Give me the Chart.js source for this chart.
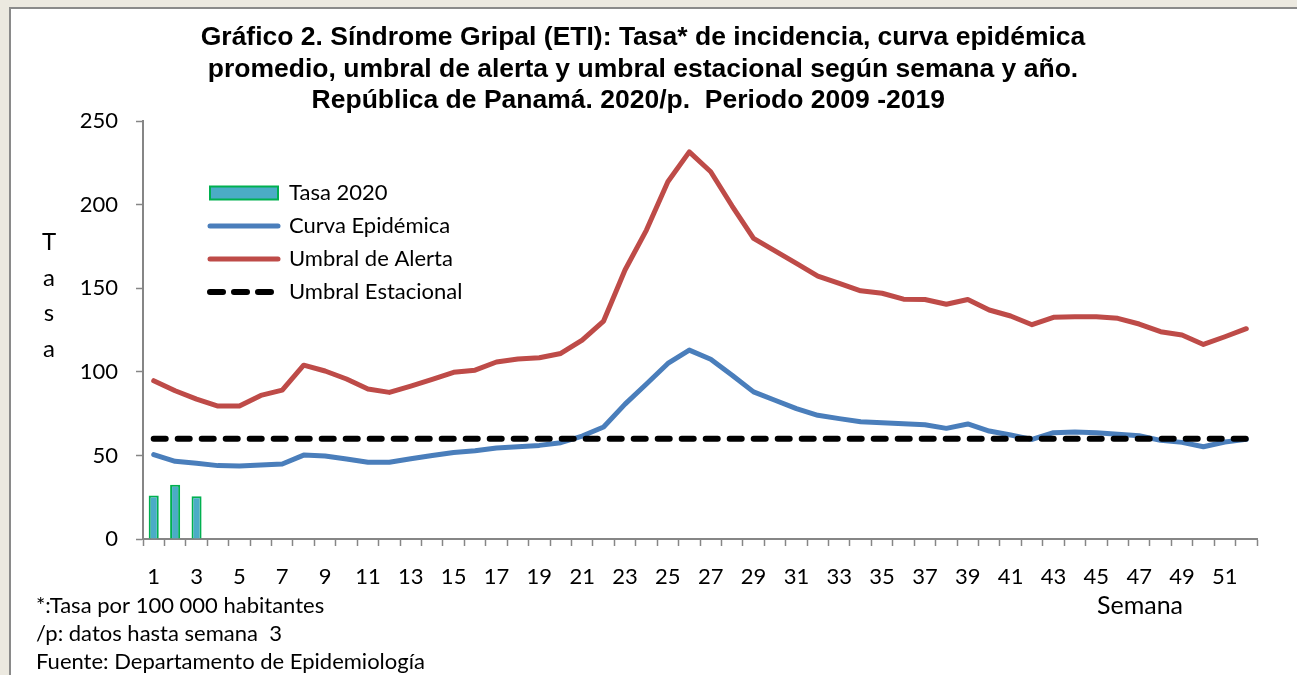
<!DOCTYPE html>
<html lang="es">
<head>
<meta charset="utf-8">
<title>Síndrome Gripal (ETI) - Panamá 2020</title>
<script src="https://cdn.jsdelivr.net/npm/chart.js@4.4.1/dist/chart.umd.min.js"></script>
<style>
    html, body { margin: 0; padding: 0; background: #ece9e0; overflow: hidden; }
    #marco {
        position: absolute; left: 9px; top: 7px; width: 1300px; height: 700px;
        background: #ffffff; border-left: 2px solid #8a8a8a; border-top: 2px solid #8a8a8a;
    }
    #grafica { position: absolute; left: 0; top: 0; }
</style>
</head>
<body>
<div id="marco"></div>
<canvas id="grafica" width="1297" height="675"></canvas>
<script>
// Datos del gráfico
const semanas = ['1','2','3','4','5','6','7','8','9','10','11','12','13','14','15','16','17','18','19','20',
    '21','22','23','24','25','26','27','28','29','30','31','32','33','34','35','36','37','38','39','40',
    '41','42','43','44','45','46','47','48','49','50','51','52'];

const tasa2020 = [26, 32.5, 25.5];

const curvaEpidemica = [50.5, 46.5, 45.3, 43.9, 43.6, 44.3, 44.9, 50.2, 49.6, 47.8, 45.9, 45.9, 48, 50,
    51.8, 52.8, 54.4, 55.2, 56, 57.6, 61.6, 67, 80.7, 92.7, 105, 113, 107.5, 98, 88, 83, 78, 74, 72,
    70.2, 69.6, 69, 68.4, 66.2, 68.8, 64.6, 62.2, 59.6, 63.6, 64, 63.6, 62.6, 61.8, 59, 57.8, 55.2, 58, 59.6];

const umbralAlerta = [94.7, 88.7, 83.7, 79.5, 79.5, 85.9, 89.1, 104, 100.5, 95.7, 89.7, 87.7, 91.5, 95.5,
    99.7, 101, 105.9, 107.7, 108.4, 111, 119, 130.4, 160.9, 184.8, 213.7, 231.6, 219.7, 199.2, 179.8,
    172.4, 164.9, 157.3, 152.9, 148.5, 147, 143.5, 143.3, 140.4, 143.3, 137, 133.4, 128.2, 132.6, 133,
    133, 132, 128.6, 124, 122, 116.4, 121, 125.8];

const umbralEstacional = [60, 60, 60, 60, 60, 60, 60, 60, 60, 60, 60, 60, 60, 60, 60, 60, 60, 60, 60, 60,
    60, 60, 60, 60, 60, 60, 60, 60, 60, 60, 60, 60, 60, 60, 60, 60, 60, 60, 60, 60,
    60, 60, 60, 60, 60, 60, 60, 60, 60, 60, 60, 60];

const ticksY = [0, 50, 100, 150, 200, 250];

const nombresSeries = ['Tasa 2020', 'Curva Epidémica', 'Umbral de Alerta', 'Umbral Estacional'];

const titulo = [
    'Gráfico 2. Síndrome Gripal (ETI): Tasa* de incidencia, curva epidémica',
    'promedio, umbral de alerta y umbral estacional según semana y año.',
    'República de Panamá. 2020/p.  Periodo 2009 -2019    '
];
const tituloEjeY = ['T', 'a', 's', 'a'];
const notas = [
    '*:Tasa por 100 000 habitantes',
    '/p: datos hasta semana  3',
    'Fuente: Departamento de Epidemiología'
];

const FUENTE = 'Lato, "Open Sans", sans-serif';
const GRIS = '#868686';

// Leyenda dentro del área del gráfico + textos sueltos (título eje Y, "Semana", notas)
const textosExtra = {
    id: 'textosExtra',
    afterLayout(chart) {
        const lg = chart.legend;
        const w = lg.width, h = lg.height;
        lg.left = 199; lg.top = 171;
        lg.right = lg.left + w; lg.bottom = lg.top + h;
    },
    afterDraw(chart) {
        const ctx = chart.ctx;
        ctx.save();
        ctx.fillStyle = '#000';
        ctx.textBaseline = 'alphabetic';
        ctx.font = '24px ' + FUENTE;
        ctx.textAlign = 'center';
        tituloEjeY.forEach((letra, i) => ctx.fillText(letra, 49, 250 + i * 35.5));
        ctx.font = '25px ' + FUENTE;
        ctx.fillText('Semana', 1140, 614);
        ctx.textAlign = 'left';
        ctx.font = '22px ' + FUENTE;
        notas.forEach((t, i) => ctx.fillText(t, 36, 613 + i * 28));
        ctx.restore();
    }
};

const ctx = document.getElementById('grafica').getContext('2d');

new Chart(ctx, {
    type: 'bar',
    data: {
        labels: semanas,
        datasets: [
            {
                type: 'bar',
                label: nombresSeries[0],
                data: tasa2020,
                backgroundColor: '#4bacc6',
                borderColor: '#00b050',
                borderWidth: 2,
                barPercentage: 0.47,
                categoryPercentage: 1,
                order: 1
            },
            {
                type: 'line',
                label: nombresSeries[1],
                data: curvaEpidemica,
                borderColor: '#4a7ebb',
                borderWidth: 5,
                borderCapStyle: 'round',
                borderJoinStyle: 'round',
                pointRadius: 0,
                tension: 0,
                order: 2
            },
            {
                type: 'line',
                label: nombresSeries[2],
                data: umbralAlerta,
                borderColor: '#be4b48',
                borderWidth: 5,
                borderCapStyle: 'round',
                borderJoinStyle: 'round',
                pointRadius: 0,
                tension: 0,
                order: 3
            },
            {
                type: 'line',
                label: nombresSeries[3],
                data: umbralEstacional,
                borderColor: '#000000',
                borderWidth: 6,
                borderDash: [12, 12],
                borderCapStyle: 'round',
                pointRadius: 0,
                tension: 0,
                order: 0
            }
        ]
    },
    options: {
        responsive: false,
        animation: false,
        layout: { padding: { left: 29, right: 40, top: 0, bottom: 0 } },
        plugins: {
            title: {
                display: true,
                text: titulo,
                color: '#000',
                font: { family: '"Liberation Sans", Arial, sans-serif', size: 26.5, weight: 'bold', lineHeight: 1.19 },
                padding: { top: 22, bottom: 4.5 }
            },
            legend: {
                position: 'chartArea',
                align: 'start',
                labels: {
                    usePointStyle: true,
                    pointStyleWidth: 68,
                    boxHeight: 13,
                    padding: 11,
                    color: '#000',
                    font: { family: FUENTE, size: 22 },
                    generateLabels: () => [
                        { text: nombresSeries[0], pointStyle: 'rect', fillStyle: '#4bacc6', strokeStyle: '#00b050', lineWidth: 2, datasetIndex: 0 },
                        { text: nombresSeries[1], pointStyle: 'line', fillStyle: '#4a7ebb', strokeStyle: '#4a7ebb', lineWidth: 5, lineCap: 'round', datasetIndex: 1 },
                        { text: nombresSeries[2], pointStyle: 'line', fillStyle: '#be4b48', strokeStyle: '#be4b48', lineWidth: 5, lineCap: 'round', datasetIndex: 2 },
                        { text: nombresSeries[3], pointStyle: 'line', fillStyle: '#000', strokeStyle: '#000', lineWidth: 6, lineCap: 'round', lineDash: [13, 11], datasetIndex: 3 }
                    ]
                }
            },
            tooltip: { enabled: false }
        },
        scales: {
            x: {
                offset: true,
                grid: { offset: true, drawOnChartArea: false, tickLength: 7, color: GRIS, tickWidth: 1.5 },
                border: { color: GRIS, width: 2 },
                ticks: {
                    autoSkip: false,
                    maxRotation: 0,
                    padding: 18,
                    color: '#000',
                    font: { family: FUENTE, size: 22 },
                    callback: (valor, i) => (i % 2 === 0 ? semanas[i] : '')
                },
                afterFit: (escala) => { escala.height = 136; }
            },
            y: {
                min: 0,
                max: 250,
                afterBuildTicks: (escala) => { escala.ticks = ticksY.map(v => ({ value: v })); },
                grid: { drawOnChartArea: false, tickLength: 7, color: GRIS, tickWidth: 1.5 },
                border: { color: GRIS, width: 2 },
                ticks: {
                    padding: 18,
                    color: '#000',
                    font: { family: FUENTE, size: 22 }
                },
                afterFit: (escala) => { escala.width = 114; }
            }
        }
    },
    plugins: [textosExtra]
});
</script>
</body>
</html>
